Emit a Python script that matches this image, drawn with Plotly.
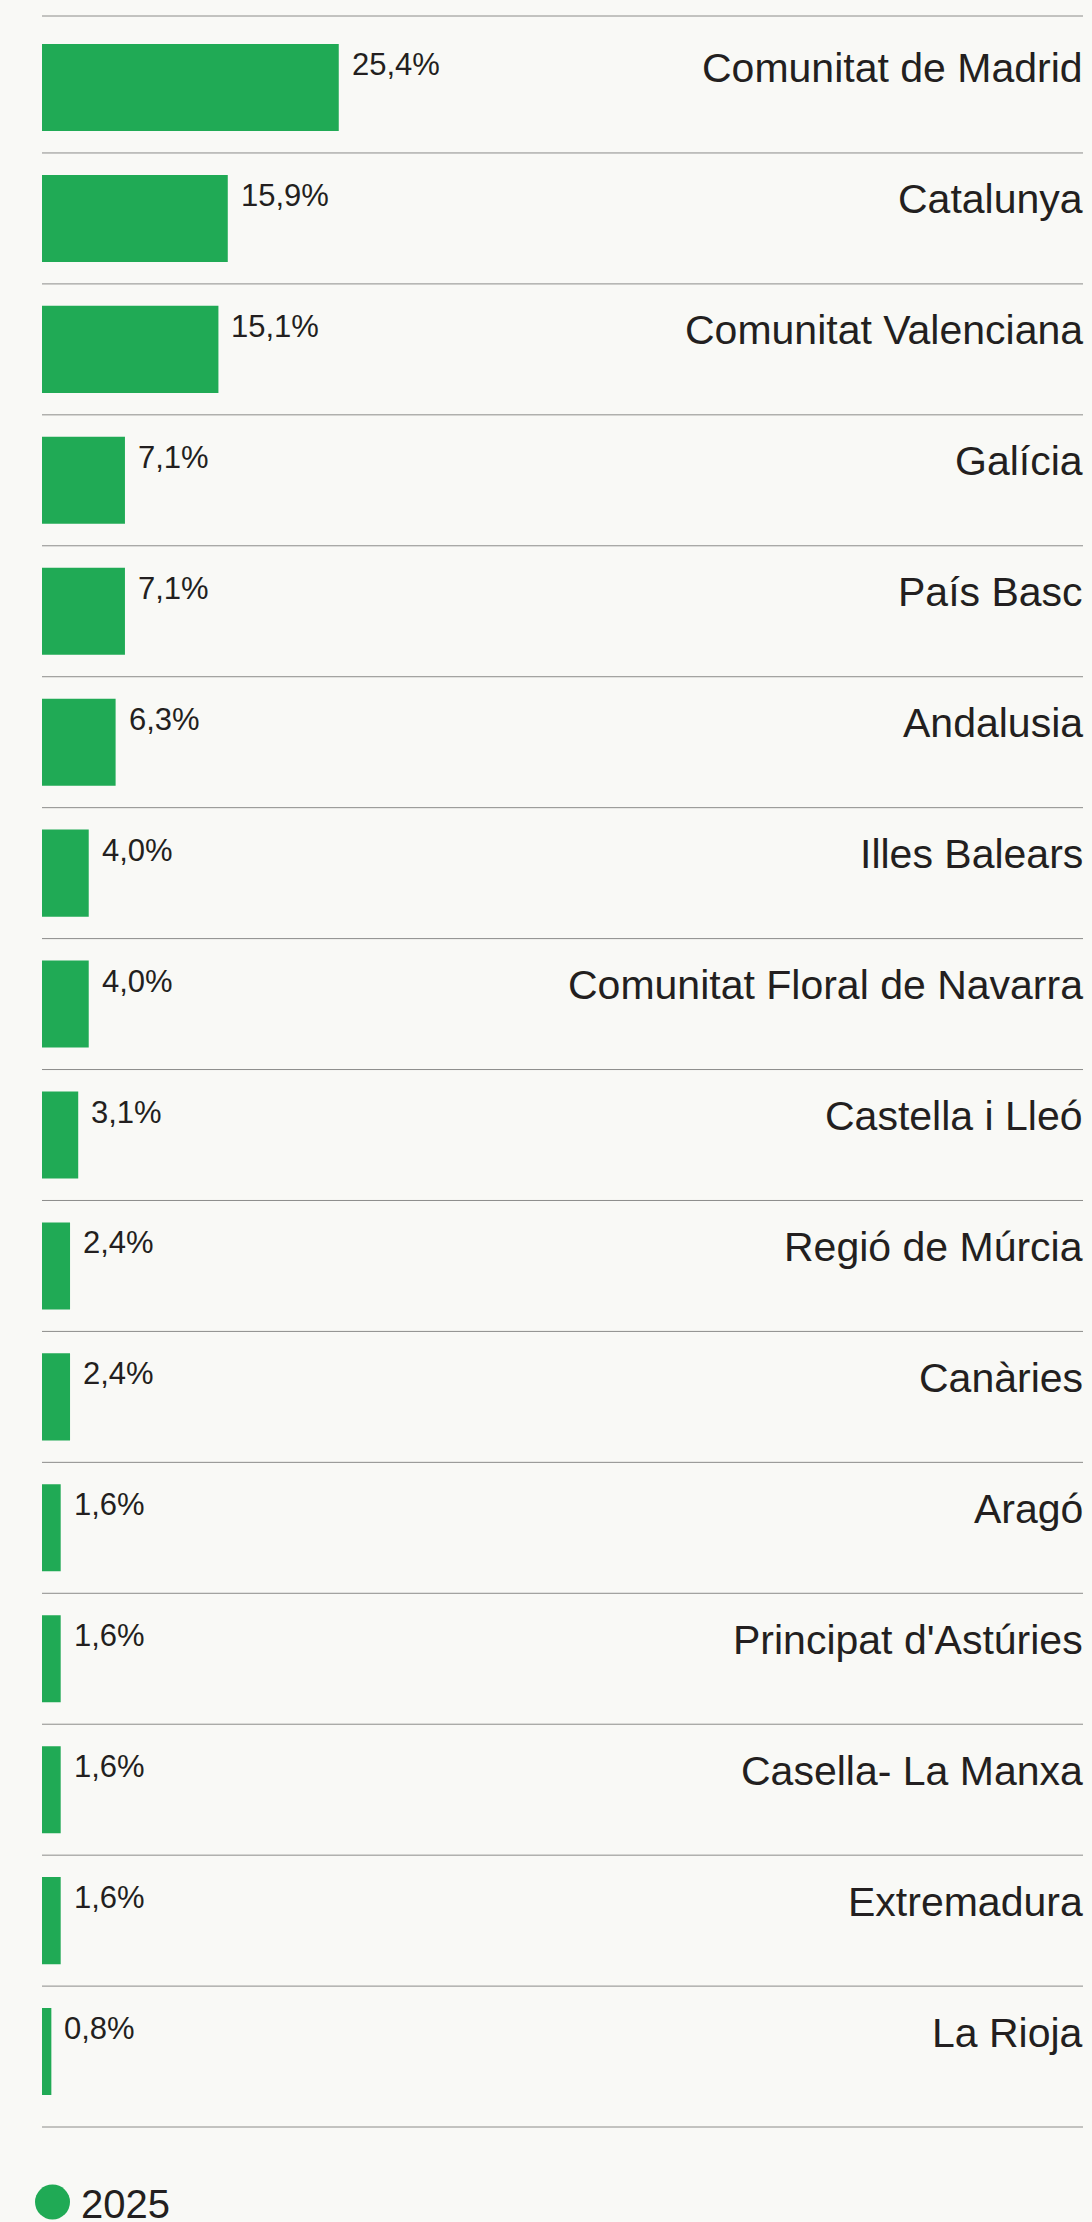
import plotly.graph_objects as go

categories = [
    "Comunitat de Madrid", "Catalunya", "Comunitat Valenciana", "Galícia",
    "País Basc", "Andalusia", "Illes Balears", "Comunitat Floral de Navarra",
    "Castella i Lleó", "Regió de Múrcia", "Canàries", "Aragó",
    "Principat d'Astúries", "Casella- La Manxa", "Extremadura", "La Rioja",
]
values_2025 = [25.4, 15.9, 15.1, 7.1, 7.1, 6.3, 4.0, 4.0, 3.1, 2.4, 2.4, 1.6, 1.6, 1.6, 1.6, 0.8]
series_name = "2025"

GREEN = "#20aa55"
BG = "#f9f9f6"
TEXT = "#231f20"
LINE = "#8c8c8a"
FONT = "Liberation Sans, Arial, sans-serif"

fig = go.Figure()
fig.add_trace(go.Bar(
    x=values_2025, y=categories, orientation="h",
    marker=dict(color=GREEN, line=dict(width=0)),
    name=series_name, showlegend=False, hoverinfo="skip",
))

annotations = []
for cat, v in zip(categories, values_2025):
    label = f"{v:.1f}".replace(".", ",") + "%"
    annotations.append(dict(
        x=v, y=cat, xref="x", yref="y", text=label, showarrow=False,
        xanchor="left", yanchor="middle", xshift=11, yshift=23,
        font=dict(family=FONT, size=31, color=TEXT),
    ))
    annotations.append(dict(
        x=1, y=cat, xref="paper", yref="y", text=cat, showarrow=False,
        xanchor="right", yanchor="middle", xshift=2, yshift=19,
        font=dict(family=FONT, size=41, color=TEXT),
    ))

# legend text
annotations.append(dict(
    x=0, y=0, xref="paper", yref="paper", text=series_name, showarrow=False,
    xanchor="left", yanchor="middle", xshift=37, yshift=-77,
    font=dict(family=FONT, size=40, color=TEXT),
))

shapes = []
for k in range(len(categories) - 1):
    shapes.append(dict(type="line", xref="paper", yref="y", x0=0, x1=1,
                       y0=k + 0.5, y1=k + 0.5, line=dict(color=LINE, width=1)))
for yp in (0, 1):
    shapes.append(dict(type="line", xref="paper", yref="paper", x0=0, x1=1,
                       y0=yp, y1=yp, line=dict(color=LINE, width=1)))
# legend marker
shapes.append(dict(type="circle", xref="paper", yref="paper",
                   xsizemode="pixel", ysizemode="pixel", xanchor=0, yanchor=0,
                   x0=-7, x1=28, y0=-92.5, y1=-57.5,
                   fillcolor=GREEN, line=dict(width=0)))

n = len(categories)
fig.update_layout(
    width=1092, height=2222,
    margin=dict(l=42, r=9, t=16, b=95, pad=0),
    paper_bgcolor=BG, plot_bgcolor=BG,
    bargap=0.335,
    xaxis=dict(range=[0, 89.1], showgrid=False, zeroline=False,
               showticklabels=False, showline=False, fixedrange=True),
    yaxis=dict(type="category", categoryorder="array", categoryarray=categories,
               range=[n - 0.5 + 0.076, -0.546], showgrid=False, zeroline=False,
               showticklabels=False, showline=False, fixedrange=True),
    annotations=annotations,
    shapes=shapes,
    showlegend=False,
)

fig.write_html(
    "out.html",
    config={"displayModeBar": False},
    post_script="document.body.style.margin='0';document.body.style.background='%s';" % BG,
)
